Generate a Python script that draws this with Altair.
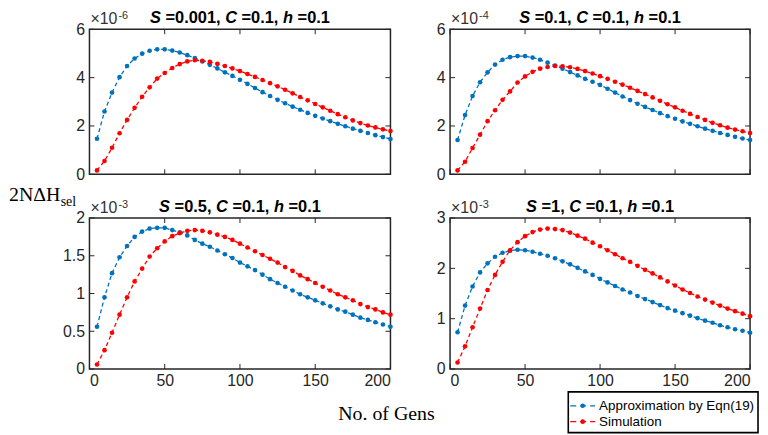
import altair as alt
import pandas as pd

# ---------------- data ----------------
GENS = list(range(5, 201, 5))
SERIES = ["Approximation by Eqn(19)", "Simulation"]
COLORS = ["#0072BD", "#FF0000"]
S_VALUES = ["0.001", "0.1", "0.5", "1"]
C_VALUE = "0.1"
H_VALUE = "0.1"
EXPONENTS = ["-6", "-4", "-3", "-3"]
Y_MAX = [6, 6, 2, 3]
Y_TICKS = [[0, 2, 4, 6], [0, 2, 4, 6], [0, 0.5, 1, 1.5, 2], [0, 1, 2, 3]]
X_TICKS = [0, 50, 100, 150, 200]
Y_LABEL_MAIN = "2NΔH"
Y_LABEL_SUB = "sel"
X_LABEL = "No. of Gens"

APPROX_1 = [1.47, 2.60, 3.38, 4.02, 4.48, 4.79, 4.99, 5.11, 5.17, 5.17,
            5.12, 5.04, 4.93, 4.81, 4.67, 4.53, 4.38, 4.22, 4.07, 3.91,
            3.74, 3.57, 3.40, 3.24, 3.08, 2.94, 2.80, 2.67, 2.54, 2.42,
            2.31, 2.20, 2.09, 1.99, 1.89, 1.80, 1.71, 1.62, 1.54, 1.46]
SIM_1 = [0.16, 0.55, 1.10, 1.70, 2.25, 2.75, 3.21, 3.60, 3.96, 4.19,
         4.40, 4.56, 4.67, 4.72, 4.70, 4.65, 4.57, 4.48, 4.38, 4.27,
         4.15, 4.03, 3.90, 3.77, 3.64, 3.50, 3.35, 3.20, 3.06, 2.91,
         2.77, 2.63, 2.49, 2.36, 2.23, 2.12, 2.02, 1.94, 1.86, 1.79]
APPROX_2 = [1.42, 2.45, 3.24, 3.81, 4.22, 4.54, 4.74, 4.85, 4.89, 4.89,
            4.83, 4.74, 4.62, 4.50, 4.37, 4.23, 4.09, 3.95, 3.83, 3.70,
            3.54, 3.38, 3.22, 3.07, 2.92, 2.79, 2.66, 2.53, 2.41, 2.30,
            2.19, 2.09, 1.99, 1.89, 1.80, 1.71, 1.63, 1.55, 1.48, 1.42]
SIM_2 = [0.16, 0.52, 1.09, 1.64, 2.20, 2.65, 3.08, 3.43, 3.80, 4.05,
         4.24, 4.37, 4.44, 4.48, 4.47, 4.43, 4.36, 4.27, 4.17, 4.06,
         3.95, 3.83, 3.71, 3.58, 3.45, 3.32, 3.18, 3.04, 2.90, 2.77,
         2.63, 2.50, 2.37, 2.25, 2.13, 2.03, 1.93, 1.85, 1.78, 1.71]
APPROX_3 = [0.56, 0.95, 1.27, 1.48, 1.63, 1.75, 1.82, 1.86, 1.87, 1.87,
            1.84, 1.81, 1.77, 1.71, 1.66, 1.62, 1.57, 1.52, 1.47, 1.41,
            1.36, 1.31, 1.25, 1.19, 1.14, 1.09, 1.04, 0.99, 0.95, 0.91,
            0.87, 0.83, 0.79, 0.76, 0.72, 0.68, 0.65, 0.62, 0.59, 0.56]
SIM_3 = [0.06, 0.25, 0.48, 0.72, 0.95, 1.16, 1.33, 1.49, 1.60, 1.69,
         1.76, 1.80, 1.83, 1.84, 1.83, 1.81, 1.78, 1.75, 1.71, 1.66,
         1.61, 1.56, 1.51, 1.46, 1.41, 1.35, 1.30, 1.24, 1.19, 1.14,
         1.09, 1.04, 0.99, 0.95, 0.91, 0.86, 0.82, 0.79, 0.75, 0.72]
APPROX_4 = [0.73, 1.26, 1.64, 1.92, 2.10, 2.23, 2.31, 2.35, 2.37, 2.36,
            2.33, 2.29, 2.25, 2.20, 2.14, 2.08, 2.01, 1.94, 1.87, 1.79,
            1.72, 1.65, 1.58, 1.52, 1.45, 1.39, 1.33, 1.27, 1.21, 1.16,
            1.11, 1.06, 1.01, 0.96, 0.92, 0.87, 0.83, 0.79, 0.76, 0.72]
SIM_4 = [0.13, 0.45, 0.83, 1.20, 1.57, 1.87, 2.13, 2.36, 2.52, 2.64,
         2.72, 2.77, 2.79, 2.78, 2.76, 2.71, 2.65, 2.59, 2.51, 2.44,
         2.36, 2.28, 2.20, 2.13, 2.05, 1.97, 1.90, 1.82, 1.74, 1.66,
         1.58, 1.51, 1.44, 1.38, 1.32, 1.26, 1.20, 1.15, 1.10, 1.05]

APPROX = [APPROX_1, APPROX_2, APPROX_3, APPROX_4]
SIM = [SIM_1, SIM_2, SIM_3, SIM_4]

# ---------------- style ----------------
INK = "#262626"
SANS = "Liberation Sans"
SERIF = "Liberation Serif"
PW = [303, 302, 303, 302]
PH = [146, 146, 152, 152]
TICK = 5
TITLE_SIZE = 16.5
EXP_SIZE = 16
SUP_SIZE = 11

# Arial / Liberation Sans advance widths (per 1000 em)
BOLD_W = {" ": 278, ",": 278, ".": 278, "=": 584, "S": 667, "C": 722, "h": 611}
REG_W = {"×": 584, "-": 333}


def text_width(s, table, size):
    return sum(table.get(ch, 556) for ch in s) * size / 1000.0


def one(label):
    return pd.DataFrame({"label": [label]})


def text_layer(label, x, y, size, font=SANS, weight="normal", style="normal",
               color=INK, align="left", baseline="alphabetic"):
    return alt.Chart(one(label)).mark_text(
        align=align, baseline=baseline, font=font, fontSize=size,
        fontWeight=weight, fontStyle=style, color=color
    ).encode(x=alt.value(x), y=alt.value(y), text="label:N")


def make_panel(i):
    w, h = PW[i], PH[i]
    n = len(GENS)
    df = pd.DataFrame({
        "gen": GENS + GENS,
        "value": APPROX[i] + SIM[i],
        "series": [SERIES[0]] * n + [SERIES[1]] * n,
    })
    xscale = alt.Scale(domain=[0, 200], nice=False, zero=False)
    yscale = alt.Scale(domain=[0, Y_MAX[i]], nice=False)
    bottom = i >= 2
    xaxis = alt.Axis(values=X_TICKS, title=None, labelPadding=4) if bottom else None
    yaxis = alt.Axis(values=Y_TICKS[i], title=None, format="~g", labelPadding=5)
    color = alt.Color("series:N", scale=alt.Scale(domain=SERIES, range=COLORS), legend=None)
    X = alt.X("gen:Q", scale=xscale, axis=xaxis)
    Y = alt.Y("value:Q", scale=yscale, axis=yaxis)

    base = alt.Chart(df)
    line = base.mark_line(strokeDash=[4, 3], strokeWidth=1.3).encode(x=X, y=Y, color=color, detail="series:N")
    pts = base.mark_point(filled=True, size=22, opacity=1).encode(x=X, y=Y, color=color)

    yt = alt.Chart(pd.DataFrame({"v": Y_TICKS[i]}))
    ytl = yt.mark_rule(color=INK, strokeWidth=1).encode(
        y=alt.Y("v:Q", scale=yscale, axis=yaxis), x=alt.value(0), x2=alt.value(TICK))
    ytr = yt.mark_rule(color=INK, strokeWidth=1).encode(
        y=alt.Y("v:Q", scale=yscale, axis=yaxis), x=alt.value(w - TICK), x2=alt.value(w))
    xt = alt.Chart(pd.DataFrame({"v": X_TICKS}))
    xtb = xt.mark_rule(color=INK, strokeWidth=1).encode(
        x=alt.X("v:Q", scale=xscale, axis=xaxis), y=alt.value(h - TICK), y2=alt.value(h))
    xtt = xt.mark_rule(color=INK, strokeWidth=1).encode(
        x=alt.X("v:Q", scale=xscale, axis=xaxis), y=alt.value(0), y2=alt.value(TICK))

    layers = [line, pts, ytl, ytr, xtb, xtt]

    # title with italic variable names
    parts = [("S", True), (" =" + S_VALUES[i] + ", ", False), ("C", True),
             (" =" + C_VALUE + ", ", False), ("h", True), (" =" + H_VALUE, False)]
    total = sum(text_width(p, BOLD_W, TITLE_SIZE) for p, _ in parts)
    x0 = w / 2 - total / 2
    space = text_width(" ", BOLD_W, TITLE_SIZE)
    for p, ital in parts:
        layers.append(text_layer(p.strip(), x0 + (space if p.startswith(" ") else 0),
                                 -6, TITLE_SIZE, weight="bold",
                                 style="italic" if ital else "normal", color="black"))
        x0 += text_width(p, BOLD_W, TITLE_SIZE)

    # exponent label
    layers.append(text_layer("×10", 1, -5, EXP_SIZE, color="#333333"))
    layers.append(text_layer(EXPONENTS[i], 2 + text_width("×10", REG_W, EXP_SIZE), -10,
                             SUP_SIZE, color="#333333"))

    if i == 2:
        layers.append(text_layer(Y_LABEL_MAIN, -81, -17, 20, font=SERIF, color="black"))
        layers.append(text_layer(Y_LABEL_SUB, -29, -12, 14, font=SERIF, color="black"))
        layers.append(text_layer(X_LABEL, 299, 203, 20, font=SERIF, color="black", align="center"))

    if i == 3:
        box = alt.Chart(one("legend")).mark_rect(
            fill="white", stroke="black", strokeWidth=1.6
        ).encode(x=alt.value(119), x2=alt.value(310), y=alt.value(175), y2=alt.value(216))
        layers.append(box)
        for k, s in enumerate(SERIES):
            yy = 189 + 16 * k
            d = alt.Chart(pd.DataFrame({"series": [s]}))
            layers.append(d.mark_rule(strokeDash=[6, 4], strokeWidth=1.3, color=COLORS[k]).encode(
                x=alt.value(121), x2=alt.value(146), y=alt.value(yy)))
            layers.append(d.mark_point(filled=True, size=22, opacity=1, color=COLORS[k]).encode(
                x=alt.value(133.5), y=alt.value(yy)))
            layers.append(d.mark_text(align="left", baseline="middle", font=SANS, fontSize=13.5,
                                      color="black").encode(
                x=alt.value(150), y=alt.value(yy), text="series:N"))

    return alt.layer(*layers).properties(width=w, height=h)


panels = [make_panel(i) for i in range(4)]

chart = alt.concat(
    *panels, columns=2, spacing={"row": 44, "column": 60}, bounds="flush", align="each"
).properties(
    padding=0
).configure_view(
    stroke=INK, strokeWidth=1.5
).configure_axis(
    labelFont=SANS, labelFontSize=16, labelColor=INK,
    ticks=False, domain=False, grid=False, tickSize=0
)

chart.save("out.html", embed_options={"renderer": "svg", "actions": False})
